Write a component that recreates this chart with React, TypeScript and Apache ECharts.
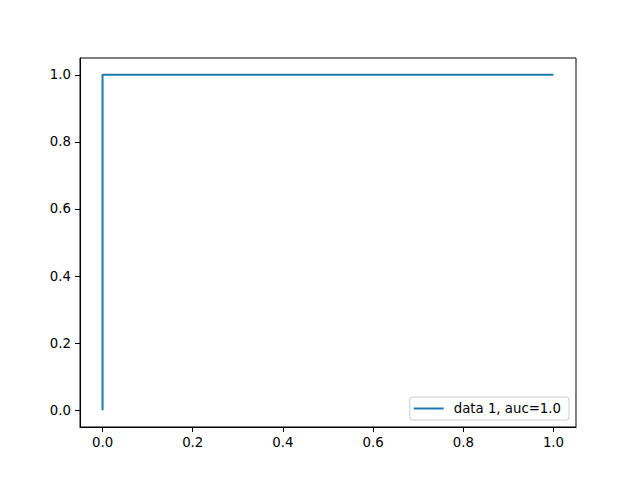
import * as echarts from "echarts";
import React, { useEffect, useRef } from "react";

// ROC curve points (false positive rate, true positive rate)
const fpr: number[] = [0, 0, 1];
const tpr: number[] = [0, 1, 1];
const seriesName = "data 1, auc=1.0";
const tickValues: number[] = [0, 0.2, 0.4, 0.6, 0.8, 1.0];

const font = "DejaVu Sans";

const App: React.FC = () => {
  const chartRef = useRef<HTMLDivElement | null>(null);

  useEffect(() => {
    const chart = echarts.init(chartRef.current, undefined, { renderer: "svg" });

    const axisCommon = {
      type: "value",
      min: -0.05,
      max: 1.05,
      splitLine: { show: false },
      axisLine: { show: true, onZero: false, lineStyle: { color: "#000", width: 1 } },
      axisTick: {
        show: true,
        length: 5,
        inside: false,
        customValues: tickValues,
        lineStyle: { color: "#000", width: 1 },
      },
      axisLabel: {
        customValues: tickValues,
        margin: 9,
        color: "#000",
        fontSize: 13.3,
        fontFamily: font,
        formatter: (v: number) => v.toFixed(1),
      },
    };

    chart.setOption({
      animation: false,
      backgroundColor: "#fff",
      grid: {
        left: 80,
        right: 64,
        top: 58,
        bottom: 53,
        show: true,
        borderColor: "#000",
        borderWidth: 1,
        backgroundColor: "transparent",
      },
      xAxis: { ...axisCommon },
      yAxis: { ...axisCommon },
      legend: {
        right: 71,
        bottom: 60,
        orient: "vertical",
        padding: [5, 8, 5, 4],
        itemWidth: 30,
        itemHeight: 2,
        icon: "rect",
        borderColor: "#cccccc",
        borderWidth: 1,
        borderRadius: 3,
        backgroundColor: "rgba(255,255,255,0.8)",
        textStyle: {
          color: "#000",
          fontSize: 13.3,
          fontFamily: font,
          padding: [0, 0, 0, 5],
        },
        data: [seriesName],
      },
      series: [
        {
          name: seriesName,
          type: "line",
          showSymbol: false,
          symbol: "none",
          lineStyle: { color: "#1f77b4", width: 2 },
          itemStyle: { color: "#1f77b4" },
          data: fpr.map((x, i) => [x, tpr[i]]),
        },
      ],
    });

    return () => {
      chart.dispose();
    };
  }, []);

  return (
    <div
      ref={chartRef}
      style={{ position: "fixed", left: 0, top: 0, width: "640px", height: "480px" }}
    ></div>
  );
};

export default App;
